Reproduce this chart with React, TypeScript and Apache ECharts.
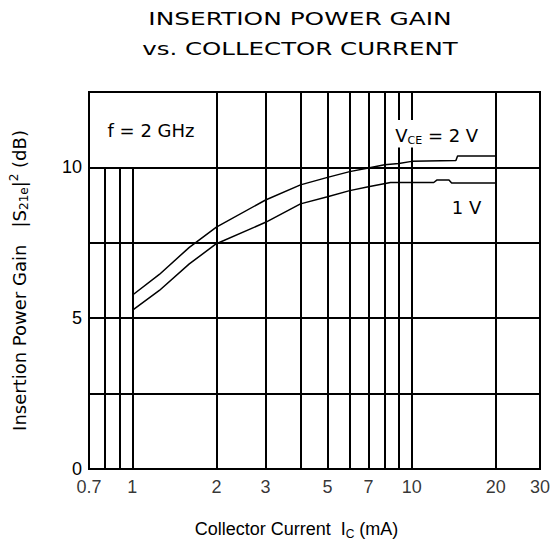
import React, { useEffect, useRef } from 'react';
import * as echarts from 'echarts';

// Curves (collector current in mA, gain in dB)
const current2V = [1, 1.25, 1.6, 2, 3, 4, 5, 6, 7, 8, 9, 10, 14.4, 14.6, 20];
const gain2V = [5.76, 6.45, 7.35, 8.02, 8.92, 9.42, 9.67, 9.86, 9.98, 10.09, 10.13, 10.2, 10.23, 10.38, 10.38];
const current1V = [1, 1.25, 1.6, 2, 3, 4, 5, 6, 7, 8.4, 12, 12.3, 13.6, 13.9, 20];
const gain1V = [5.26, 5.92, 6.8, 7.47, 8.18, 8.79, 9.03, 9.23, 9.36, 9.5, 9.5, 9.58, 9.58, 9.48, 9.48];

// Axis ticks
const xTickValues = [0.7, 1, 2, 3, 5, 7, 10, 20, 30];
const xTickLabels = ['0.7', '1', '2', '3', '5', '7', '10', '20', '30'];
const yTickLabels = [0, 5, 10];

// Vertical grid lines of the printed graph paper
const xGridTo10 = [0.8, 0.9, 1];
const xGridToTop = [2, 3, 4, 5, 6, 7, 8, 20];
const xGridGapped = [9, 10];
const gridGap = [10.66, 11.57];

const X_MIN = 0.7;
const X_MAX = 28.8;
const Y_MIN = 0;
const Y_MAX = 12.5;
const Y_STEP = 2.5;

const NARROW = 'Liberation Sans';
const WIDE = 'DejaVu Sans';

export default function App() {
  const ref = useRef<HTMLDivElement>(null);
  useEffect(() => {
    const chart = echarts.init(ref.current!, null, { renderer: 'svg' });
    const vSeg = (x: number, y0: number, y1: number) => [{ coord: [x, y0] }, { coord: [x, y1] }];
    const gridLines = [
      ...xGridTo10.map((x) => vSeg(x, Y_MIN, 10)),
      ...xGridToTop.map((x) => vSeg(x, Y_MIN, Y_MAX)),
      ...xGridGapped.flatMap((x) => [vSeg(x, Y_MIN, gridGap[0]), vSeg(x, gridGap[1], Y_MAX)]),
    ];
    const txt = (text: string, x: number, y: number, fontSize: number, family: string, scaleX = 1, rich?: any) => ({
      type: 'text',
      x,
      y,
      scaleX,
      silent: true,
      style: {
        text,
        fill: '#000',
        fontSize,
        fontFamily: family,
        align: 'center',
        verticalAlign: 'middle',
        textAlign: 'center',
        textVerticalAlign: 'middle',
        rich,
      },
    });
    const subRich = { sub: { fontSize: 11, fontFamily: WIDE, fill: '#000', verticalAlign: 'bottom', lineHeight: 22 } };
    chart.setOption({
      animation: false,
      backgroundColor: '#fff',
      grid: {
        left: 87,
        right: 15,
        top: 92,
        bottom: 76,
        show: true,
        borderColor: '#000',
        borderWidth: 2,
        backgroundColor: 'transparent',
      },
      xAxis: {
        type: 'log',
        logBase: 10,
        min: X_MIN,
        max: X_MAX,
        axisLine: { show: true, lineStyle: { color: '#000', width: 2 } },
        axisTick: { show: false },
        axisLabel: { show: false },
        splitLine: { show: false },
        minorTick: { show: false },
        minorSplitLine: { show: false },
        name: 'Collector Current  I{sub|C} (mA)',
        nameLocation: 'middle',
        nameGap: 49,
        nameTextStyle: {
          color: '#000',
          fontFamily: NARROW,
          fontSize: 18,
          padding: [0, 36, 0, 0],
          rich: { sub: { fontSize: 12, fontFamily: NARROW, color: '#000', verticalAlign: 'bottom', lineHeight: 22 } },
        },
      },
      yAxis: {
        type: 'value',
        min: Y_MIN,
        max: Y_MAX,
        interval: Y_STEP,
        axisLine: { show: true, lineStyle: { color: '#000', width: 2 } },
        axisTick: { show: false },
        axisLabel: {
          color: '#000',
          fontFamily: NARROW,
          fontSize: 18,
          margin: 7,
          formatter: (v: number) => (yTickLabels.includes(v) ? String(v) : ''),
        },
        splitLine: { show: true, lineStyle: { color: '#000', width: 2 } },
        name: 'Insertion Power Gain   |S{sub|21e}|{sup|2} (dB)',
        nameLocation: 'middle',
        nameGap: 59,
        nameTextStyle: {
          color: '#000',
          fontFamily: WIDE,
          fontSize: 18,
          rich: {
            sub: { fontSize: 12, fontFamily: WIDE, color: '#000', verticalAlign: 'bottom', lineHeight: 22 },
            sup: { fontSize: 12, fontFamily: WIDE, color: '#000', verticalAlign: 'top', lineHeight: 22 },
          },
        },
      },
      series: [
        {
          type: 'line',
          data: [],
          silent: true,
          z: 1,
          markLine: {
            silent: true,
            animation: false,
            symbol: ['none', 'none'],
            label: { show: false },
            emphasis: { disabled: true },
            lineStyle: { color: '#000', width: 2, type: 'solid' },
            data: gridLines,
          },
        },
        {
          type: 'line',
          name: 'VCE = 2 V',
          data: current2V.map((x, i) => [x, gain2V[i]]),
          showSymbol: false,
          silent: true,
          z: 3,
          lineStyle: { color: '#000', width: 1.5 },
        },
        {
          type: 'line',
          name: 'VCE = 1 V',
          data: current1V.map((x, i) => [x, gain1V[i]]),
          showSymbol: false,
          silent: true,
          z: 3,
          lineStyle: { color: '#000', width: 1.5 },
        },
        {
          type: 'scatter',
          data: xTickValues.map((v) => [Math.min(v, X_MAX), Y_MIN]),
          symbolSize: 1,
          clip: false,
          silent: true,
          itemStyle: { color: 'transparent' },
          label: {
            show: true,
            position: 'bottom',
            distance: 8,
            color: '#000',
            fontFamily: NARROW,
            fontSize: 18,
            formatter: (p: any) => xTickLabels[p.dataIndex],
          },
        },
      ],
      graphic: [
        txt('INSERTION POWER GAIN', 300, 19, 18, WIDE, 1.38),
        txt('vs. COLLECTOR CURRENT', 300, 48.5, 18, WIDE, 1.36),
        txt('f = 2 GHz', 151, 130.5, 18, WIDE),
        txt('V{sub|CE} = 2 V', 436.7, 135, 18, WIDE, 1, subRich),
        txt('1 V', 466.5, 207.5, 18, WIDE),
      ],
    });
    return () => chart.dispose();
  }, []);
  return <div ref={ref} style={{ position: 'absolute', left: 0, top: 0, width: 555, height: 545 }} />;
}
